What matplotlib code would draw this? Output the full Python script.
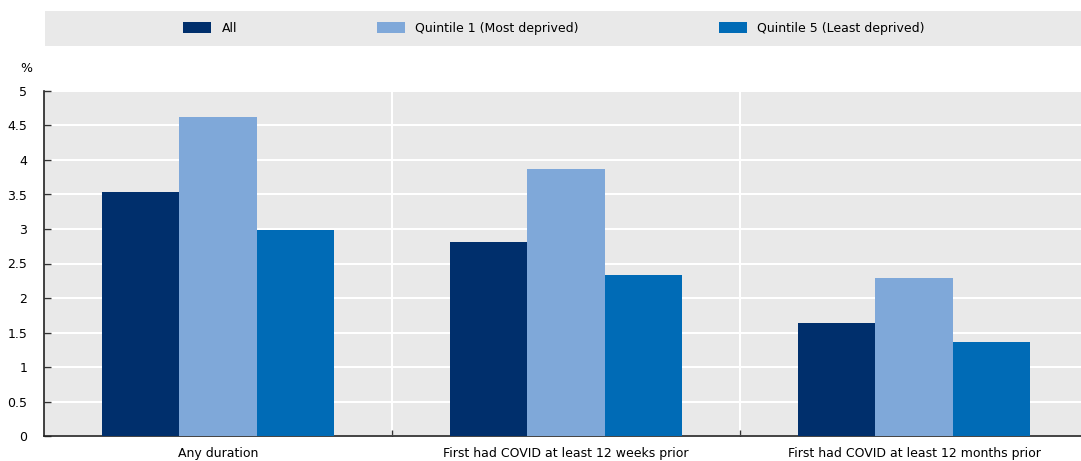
import numpy as np
import matplotlib
matplotlib.use('Agg')
import matplotlib.pyplot as plt
from matplotlib.patches import Rectangle

# ── Data ─────────────────────────────────────────────────────────────────────
categories = ['Any duration',
              'First had COVID at least 12 weeks prior',
              'First had COVID at least 12 months prior']
series_names = ['All', 'Quintile 1 (Most deprived)', 'Quintile 5 (Least deprived)']
vals_all = [3.54, 2.81, 1.64]
vals_q1 = [4.63, 3.87, 2.29]
vals_q5 = [2.99, 2.34, 1.36]
yticks = [0, 0.5, 1, 1.5, 2, 2.5, 3, 3.5, 4, 4.5, 5]
ytick_labels = ['0', '0.5', '1', '1.5', '2', '2.5', '3', '3.5', '4', '4.5', '5']

COLORS = ['#002F6C', '#7FA8D9', '#006BB6']
BG = '#E9E9E9'
FS = 9
plt.rcParams['font.family'] = ['DejaVu Sans']

# ── Figure ───────────────────────────────────────────────────────────────────
W, H = 1081, 461
fig = plt.figure(figsize=(W / 100, H / 100), dpi=100)
# plot area runs past the right edge of the image, as in the original
ax = fig.add_axes([44 / W, 25 / H, 1044 / W, 345 / H])
ax.set_facecolor(BG)

x = np.arange(len(categories))
w = 0.223
for i, (vals, name) in enumerate(zip([vals_all, vals_q1, vals_q5], series_names)):
    ax.bar(x + (i - 1) * w, vals, width=w, color=COLORS[i], label=name,
           zorder=3, linewidth=0)

ax.set_xlim(-0.5, len(categories) - 0.5)
ax.set_ylim(0, 5)
ax.set_yticks(yticks)
ax.set_yticklabels(ytick_labels, fontsize=FS)
ax.set_xticks(x)
ax.set_xticklabels(categories, fontsize=FS)
ax.set_xticks(x[:-1] + 0.5, minor=True)

ax.grid(axis='y', color='white', linewidth=1.5, zorder=1)
for b in x[:-1] + 0.5:
    ax.axvline(b, color='white', linewidth=1.5, zorder=1)

ax.tick_params(axis='y', direction='in', length=5, width=1, color='#333333',
               pad=12)
ax.tick_params(axis='x', which='major', length=0, pad=8)
ax.tick_params(axis='x', which='minor', direction='in', length=4, width=1,
               color='#333333')
ax.spines[['top', 'right']].set_visible(False)
for s in ['left', 'bottom']:
    ax.spines[s].set_color('#222222')
    ax.spines[s].set_linewidth(1.2)

fig.text(26 / W, 1 - 68 / H, '%', fontsize=FS, ha='center', va='center')

# legend band
fig.patches.append(Rectangle((45 / W, 1 - 46 / H), 1040 / W, 35 / H,
                             transform=fig.transFigure, facecolor=BG,
                             edgecolor='none', zorder=0))
handles, labels = ax.get_legend_handles_labels()
fig.legend(handles, labels, loc='center left',
           bbox_to_anchor=(172 / W, 1 - 28.5 / H),
           ncol=3, frameon=False, fontsize=FS, handlelength=2.24,
           handleheight=1.0, handletextpad=0.82, columnspacing=11.2)

fig.savefig('out.png', dpi=100)
